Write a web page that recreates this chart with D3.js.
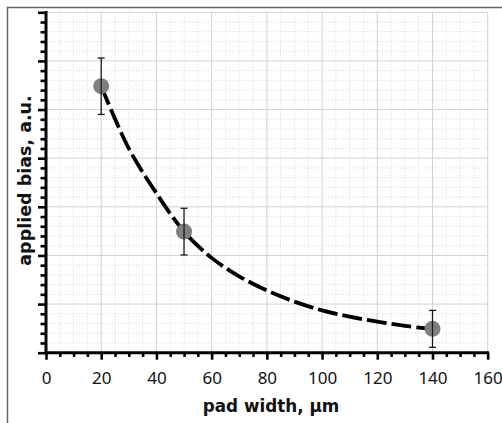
<!DOCTYPE html>
<html><head><meta charset="utf-8">
<script src="https://cdn.jsdelivr.net/npm/d3@7"></script>
<style>html,body{margin:0;padding:0;background:#fff;}svg{display:block;}</style>
</head><body>
<script>
// ---- data ----
const padWidth = [20, 50, 140];
const appliedBias = [5.48, 2.49, 0.49];
const biasError = [0.58, 0.48, 0.38];
// fitted (dashed) curve
const fitX = [20, 30, 40, 50, 60, 70, 80, 90, 100, 110, 120, 130, 140];
const fitY = [5.48, 4.20, 3.28, 2.49, 1.95, 1.57, 1.28, 1.05, 0.87, 0.74, 0.64, 0.55, 0.49];
const xTicks = [0, 20, 40, 60, 80, 100, 120, 140, 160];
const xMinor = [5,10,15,25,30,35,45,50,55,65,70,75,85,90,95,105,110,115,125,130,135,145,150,155];
const yTicks = [0, 1, 2, 3, 4, 5, 6, 7];
const yMinor = [];
for (let i = 0; i < 35; i++) { if (i % 5 !== 0) yMinor.push(+(i * 0.2).toFixed(1)); }
const xTitle = "pad width, µm";
const yTitle = "applied bias, a.u.";

const W = 502, H = 423;
const svg = d3.select("body").append("svg").attr("width", W).attr("height", H);

// frame
svg.append("path").attr("d", "M7.5,423 V7.5 H502").attr("fill", "none")
  .attr("stroke", "#666").attr("stroke-width", 1.5);

const x = d3.scaleLinear().domain([0, 160]).range([46, 487.7]);
const y = d3.scaleLinear().domain([0, 7]).range([352.7, 12.3]);

// grid
const grid = svg.append("g");
grid.selectAll(".vminor").data(xMinor).join("line")
  .attr("x1", d => x(d)).attr("x2", d => x(d)).attr("y1", y(0)).attr("y2", y(7))
  .attr("stroke", "#d6d6d6").attr("stroke-width", 1).attr("stroke-dasharray", "1,2");
grid.selectAll(".hminor").data(yMinor).join("line")
  .attr("x1", x(0)).attr("x2", x(160)).attr("y1", d => y(d)).attr("y2", d => y(d))
  .attr("stroke", "#d6d6d6").attr("stroke-width", 1).attr("stroke-dasharray", "1,2");
grid.selectAll(".vmajor").data(xTicks.slice(1)).join("line")
  .attr("x1", d => x(d)).attr("x2", d => x(d)).attr("y1", y(0)).attr("y2", y(7))
  .attr("stroke", "#d2d2d2").attr("stroke-width", 1);
grid.selectAll(".hmajor").data(yTicks.slice(1)).join("line")
  .attr("x1", x(0)).attr("x2", x(160)).attr("y1", d => y(d)).attr("y2", d => y(d))
  .attr("stroke", "#d2d2d2").attr("stroke-width", 1);

// axes
const tickFont = "'Noto Sans', 'Liberation Sans', sans-serif";
const gxMinor = svg.append("g").attr("transform", `translate(0,${y(0)})`)
  .call(d3.axisBottom(x).tickValues(xMinor).tickSize(4.2).tickSizeOuter(0).tickFormat(""));
const gx = svg.append("g").attr("transform", `translate(0,${y(0)})`)
  .call(d3.axisBottom(x).tickValues(xTicks).tickSize(7).tickSizeOuter(0));
gx.selectAll("text").attr("y", 31.5).attr("dy", 0)
  .style("font-family", tickFont).style("font-size", "17px").attr("fill", "#111");

const gyMinor = svg.append("g").attr("transform", `translate(${x(0)},0)`)
  .call(d3.axisLeft(y).tickValues(yMinor).tickSize(5.5).tickSizeOuter(0).tickFormat(""));
const gy = svg.append("g").attr("transform", `translate(${x(0)},0)`)
  .call(d3.axisLeft(y).tickValues(yTicks).tickSize(8).tickSizeOuter(0).tickFormat(""));

[gxMinor, gx, gyMinor, gy].forEach(g => {
  g.selectAll("path.domain").remove();
  g.selectAll("line").attr("stroke", "#000").attr("stroke-width", 2.6);
});

// axis lines
svg.append("line").attr("x1", x(0)).attr("x2", x(160) + 1.3).attr("y1", y(0)).attr("y2", y(0))
  .attr("stroke", "#000").attr("stroke-width", 3);
svg.append("line").attr("x1", x(0)).attr("x2", x(0)).attr("y1", y(0)).attr("y2", y(7) - 1.3)
  .attr("stroke", "#000").attr("stroke-width", 3);

// titles
svg.append("text").attr("x", 271).attr("y", 411.5).attr("text-anchor", "middle")
  .style("font-family", "'DejaVu Sans', sans-serif").style("font-weight", "bold")
  .style("font-size", "16.8px").attr("fill", "#111").text(xTitle);
svg.append("text").attr("transform", "translate(31,180.5) rotate(-90)").attr("text-anchor", "middle")
  .style("font-family", "'DejaVu Sans', sans-serif").style("font-weight", "bold")
  .style("font-size", "17.5px").attr("fill", "#111").text(yTitle);

// fit curve
const fitData = fitX.map((d, i) => [d, fitY[i]]);
svg.append("path").datum(fitData)
  .attr("d", d3.line().x(d => x(d[0])).y(d => y(d[1])).curve(d3.curveCatmullRom.alpha(0.5)))
  .attr("fill", "none").attr("stroke", "#000").attr("stroke-width", 3.8)
  .attr("stroke-dasharray", "20,5");

// markers
const pts = padWidth.map((d, i) => ({x: d, y: appliedBias[i], e: biasError[i]}));
svg.selectAll(".pt").data(pts).join("circle")
  .attr("cx", d => x(d.x)).attr("cy", d => y(d.y)).attr("r", 8).attr("fill", "#7f7f7f");

// error bars
const eb = svg.append("g").attr("stroke", "#1a1a1a").attr("stroke-width", 1.3);
pts.forEach(d => {
  eb.append("line").attr("x1", x(d.x)).attr("x2", x(d.x)).attr("y1", y(d.y + d.e)).attr("y2", y(d.y - d.e));
  eb.append("line").attr("x1", x(d.x) - 3.5).attr("x2", x(d.x) + 3.5).attr("y1", y(d.y + d.e)).attr("y2", y(d.y + d.e));
  eb.append("line").attr("x1", x(d.x) - 3.5).attr("x2", x(d.x) + 3.5).attr("y1", y(d.y - d.e)).attr("y2", y(d.y - d.e));
});
</script>
</body></html>
